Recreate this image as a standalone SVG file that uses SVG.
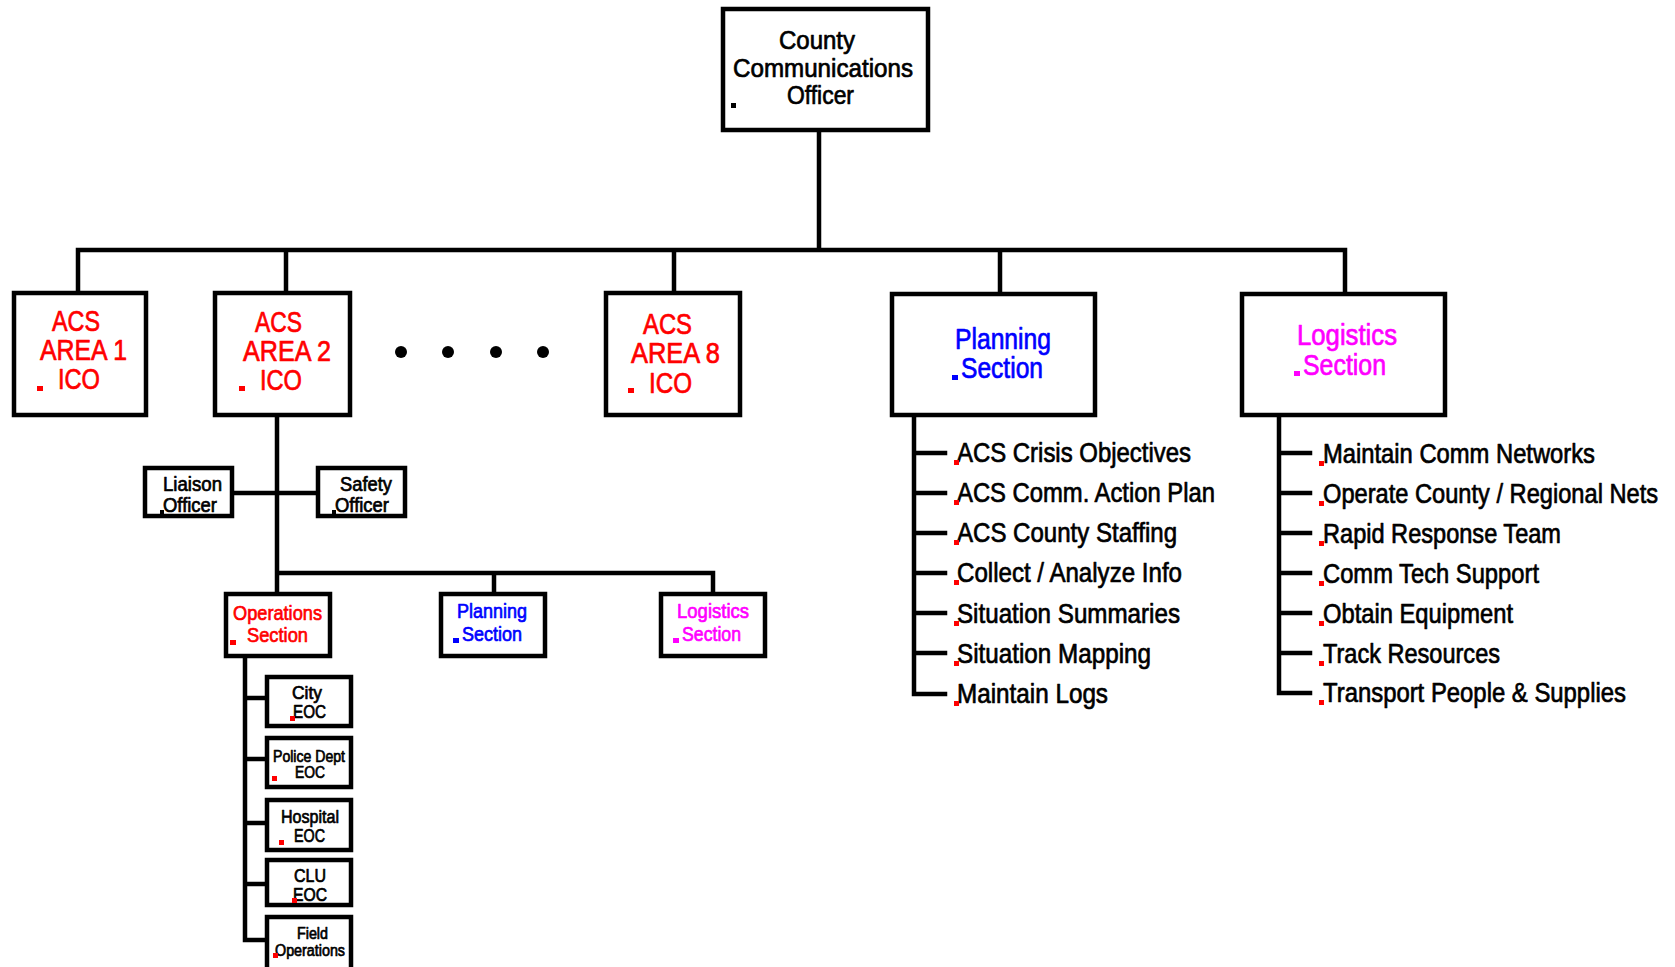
<svg xmlns="http://www.w3.org/2000/svg" width="1675" height="967" viewBox="0 0 1675 967">
<style>
.box{fill:#fff;stroke:#000;stroke-width:4.5}
.ln{fill:none;stroke:#000;stroke-width:4.5;stroke-linecap:square}
text{font-family:"Liberation Sans",Arial,sans-serif;stroke-width:0.7;stroke-linejoin:round}
.k{fill:#000}.r{fill:#f00}.b{fill:#00f}.m{fill:#f0f}
text.k{stroke:#000}text.r{stroke:#f00}text.b{stroke:#00f}text.m{stroke:#f0f}
.t26{font-size:26px}.t29{font-size:29px}.t28{font-size:28px}.t20{font-size:20px}.t21{font-size:21px}.t18{font-size:18px}.t16{font-size:16px}
</style>
<rect width="1675" height="967" fill="#fff"/>
<g id="connectors">
<path class="ln" d="M819,132V250M78,250H1345M78,250V293M286,250V293M674,250V293M1000,250V293M1345,250V293"/>
<path class="ln" d="M277,415V573M234,493H316M277,573H713M277,573V594M494,573V594M713,573V594"/>
<path class="ln" d="M245,656V940M245,698H267M245,759H267M245,823H267M245,884H267M245,940H267"/>
<path class="ln" d="M914,415V694M914,453H945M914,493H945M914,533H945M914,573H945M914,613H945M914,653H945M914,694H945"/>
<path class="ln" d="M1279,415V693M1279,453H1310M1279,493H1310M1279,533H1310M1279,573H1310M1279,613H1310M1279,653H1310M1279,693H1310"/>
<circle cx="401" cy="352" r="6" fill="#000"/>
<circle cx="448" cy="352" r="6" fill="#000"/>
<circle cx="496" cy="352" r="6" fill="#000"/>
<circle cx="543" cy="352" r="6" fill="#000"/>
</g>
<g id="county">
<rect class="box" x="723" y="9" width="205" height="121"/>
<text class="k t26" x="779" y="49" textLength="76" lengthAdjust="spacingAndGlyphs">County</text>
<text class="k t26" x="733" y="77" textLength="180" lengthAdjust="spacingAndGlyphs">Communications</text>
<text class="k t26" x="787" y="104" textLength="67" lengthAdjust="spacingAndGlyphs">Officer</text>
<rect class="k" x="731" y="103" width="5" height="5"/>
</g>
<g id="acs1">
<rect class="box" x="14" y="293" width="132" height="122"/>
<text class="r t29" x="52" y="331" textLength="48" lengthAdjust="spacingAndGlyphs">ACS</text>
<text class="r t29" x="40" y="360" textLength="87" lengthAdjust="spacingAndGlyphs">AREA 1</text>
<text class="r t29" x="58" y="389" textLength="42" lengthAdjust="spacingAndGlyphs">ICO</text>
<rect class="r" x="37" y="386" width="6" height="5"/>
</g>
<g id="acs2">
<rect class="box" x="215" y="293" width="135" height="122"/>
<text class="r t29" x="255" y="332" textLength="47" lengthAdjust="spacingAndGlyphs">ACS</text>
<text class="r t29" x="243" y="361" textLength="88" lengthAdjust="spacingAndGlyphs">AREA 2</text>
<text class="r t29" x="260" y="390" textLength="42" lengthAdjust="spacingAndGlyphs">ICO</text>
<rect class="r" x="239" y="386" width="6" height="5"/>
</g>
<g id="acs8">
<rect class="box" x="606" y="293" width="134" height="122"/>
<text class="r t29" x="643" y="334" textLength="49" lengthAdjust="spacingAndGlyphs">ACS</text>
<text class="r t29" x="631" y="363" textLength="89" lengthAdjust="spacingAndGlyphs">AREA 8</text>
<text class="r t29" x="649" y="393" textLength="43" lengthAdjust="spacingAndGlyphs">ICO</text>
<rect class="r" x="628" y="388" width="6" height="5"/>
</g>
<g id="planning">
<rect class="box" x="892" y="294" width="203" height="121"/>
<text class="b t29" x="955" y="349" textLength="96" lengthAdjust="spacingAndGlyphs">Planning</text>
<text class="b t29" x="961" y="378" textLength="82" lengthAdjust="spacingAndGlyphs">Section</text>
<rect class="b" x="952" y="375" width="6" height="5"/>
</g>
<g id="logistics">
<rect class="box" x="1242" y="294" width="203" height="121"/>
<text class="m t29" x="1297" y="345" textLength="100" lengthAdjust="spacingAndGlyphs">Logistics</text>
<text class="m t29" x="1303" y="375" textLength="83" lengthAdjust="spacingAndGlyphs">Section</text>
<rect class="m" x="1294" y="371" width="6" height="5"/>
</g>
<g id="liaison">
<rect class="box" x="145" y="468" width="87" height="48"/>
<text class="k t20" x="163" y="491" textLength="59" lengthAdjust="spacingAndGlyphs">Liaison</text>
<text class="k t20" x="163" y="512" textLength="54" lengthAdjust="spacingAndGlyphs">Officer</text>
<rect class="k" x="160" y="510" width="4" height="4"/>
</g>
<g id="safety">
<rect class="box" x="318" y="468" width="87" height="48"/>
<text class="k t20" x="340" y="491" textLength="52" lengthAdjust="spacingAndGlyphs">Safety</text>
<text class="k t20" x="335" y="512" textLength="54" lengthAdjust="spacingAndGlyphs">Officer</text>
<rect class="k" x="332" y="510" width="4" height="4"/>
</g>
<g id="ops">
<rect class="box" x="226" y="594" width="104" height="62"/>
<text class="r t21" x="233" y="620" textLength="89" lengthAdjust="spacingAndGlyphs">Operations</text>
<text class="r t21" x="247" y="642" textLength="61" lengthAdjust="spacingAndGlyphs">Section</text>
<rect class="r" x="230" y="640" width="6" height="5"/>
</g>
<g id="planning-small">
<rect class="box" x="441" y="594" width="104" height="62"/>
<text class="b t21" x="457" y="618" textLength="70" lengthAdjust="spacingAndGlyphs">Planning</text>
<text class="b t21" x="462" y="641" textLength="60" lengthAdjust="spacingAndGlyphs">Section</text>
<rect class="b" x="453" y="638" width="6" height="5"/>
</g>
<g id="logistics-small">
<rect class="box" x="661" y="594" width="104" height="62"/>
<text class="m t21" x="677" y="618" textLength="72" lengthAdjust="spacingAndGlyphs">Logistics</text>
<text class="m t21" x="682" y="641" textLength="59" lengthAdjust="spacingAndGlyphs">Section</text>
<rect class="m" x="673" y="638" width="6" height="5"/>
</g>
<g id="city-eoc">
<rect class="box" x="267" y="677" width="84" height="49"/>
<text class="k t18" x="292" y="699" textLength="30" lengthAdjust="spacingAndGlyphs">City</text>
<text class="k t18" x="293" y="718" textLength="33" lengthAdjust="spacingAndGlyphs">EOC</text>
<rect class="r" x="290" y="716" width="5" height="5"/>
</g>
<g id="police-eoc">
<rect class="box" x="267" y="738" width="84" height="49"/>
<text class="k t16" x="273" y="762" textLength="72" lengthAdjust="spacingAndGlyphs">Police Dept</text>
<text class="k t16" x="295" y="778" textLength="30" lengthAdjust="spacingAndGlyphs">EOC</text>
<rect class="r" x="272" y="776" width="5" height="5"/>
</g>
<g id="hospital-eoc">
<rect class="box" x="267" y="800" width="84" height="50"/>
<text class="k t18" x="281" y="823" textLength="58" lengthAdjust="spacingAndGlyphs">Hospital</text>
<text class="k t18" x="294" y="842" textLength="31" lengthAdjust="spacingAndGlyphs">EOC</text>
<rect class="r" x="279" y="840" width="5" height="5"/>
</g>
<g id="clu-eoc">
<rect class="box" x="267" y="860" width="84" height="45"/>
<text class="k t18" x="294" y="882" textLength="32" lengthAdjust="spacingAndGlyphs">CLU</text>
<text class="k t18" x="293" y="901" textLength="34" lengthAdjust="spacingAndGlyphs">EOC</text>
<rect class="r" x="292" y="898" width="5" height="5"/>
</g>
<g id="field-ops">
<rect class="box" x="267" y="917" width="84" height="60"/>
<text class="k t16" x="297" y="939" textLength="31" lengthAdjust="spacingAndGlyphs">Field</text>
<text class="k t16" x="275" y="956" textLength="70" lengthAdjust="spacingAndGlyphs">Operations</text>
<rect class="r" x="273" y="953" width="5" height="5"/>
</g>
<g id="planning-tasks">
<text class="k t28" x="957" y="462" textLength="234" lengthAdjust="spacingAndGlyphs">ACS Crisis Objectives</text>
<text class="k t28" x="957" y="502" textLength="258" lengthAdjust="spacingAndGlyphs">ACS Comm. Action Plan</text>
<text class="k t28" x="957" y="542" textLength="220" lengthAdjust="spacingAndGlyphs">ACS County Staffing</text>
<text class="k t28" x="957" y="582" textLength="225" lengthAdjust="spacingAndGlyphs">Collect / Analyze Info</text>
<text class="k t28" x="957" y="623" textLength="223" lengthAdjust="spacingAndGlyphs">Situation Summaries</text>
<text class="k t28" x="957" y="663" textLength="194" lengthAdjust="spacingAndGlyphs">Situation Mapping</text>
<text class="k t28" x="957" y="703" textLength="151" lengthAdjust="spacingAndGlyphs">Maintain Logs</text>
<g class="r">
<rect x="954" y="460" width="5" height="5"/><rect x="954" y="500" width="5" height="5"/><rect x="954" y="540" width="5" height="5"/><rect x="954" y="580" width="5" height="5"/><rect x="954" y="621" width="5" height="5"/><rect x="954" y="661" width="5" height="5"/><rect x="954" y="701" width="5" height="5"/>
</g>
</g>
<g id="logistics-tasks">
<text class="k t28" x="1323" y="463" textLength="272" lengthAdjust="spacingAndGlyphs">Maintain Comm Networks</text>
<text class="k t28" transform="translate(1323,503) scale(0.844,1)" x="0" y="0" textLength="397" lengthAdjust="spacingAndGlyphs">Operate County / Regional Nets</text>
<text class="k t28" x="1323" y="543" textLength="238" lengthAdjust="spacingAndGlyphs">Rapid Response Team</text>
<text class="k t28" x="1323" y="583" textLength="216" lengthAdjust="spacingAndGlyphs">Comm Tech Support</text>
<text class="k t28" x="1323" y="623" textLength="190" lengthAdjust="spacingAndGlyphs">Obtain Equipment</text>
<text class="k t28" x="1323" y="663" textLength="177" lengthAdjust="spacingAndGlyphs">Track Resources</text>
<text class="k t28" transform="translate(1323,702) scale(0.851,1)" x="0" y="0" textLength="356" lengthAdjust="spacingAndGlyphs">Transport People &amp; Supplies</text>
<g class="r">
<rect x="1319" y="461" width="5" height="5"/><rect x="1319" y="501" width="5" height="5"/><rect x="1319" y="541" width="5" height="5"/><rect x="1319" y="581" width="5" height="5"/><rect x="1319" y="621" width="5" height="5"/><rect x="1319" y="661" width="5" height="5"/><rect x="1319" y="700" width="5" height="5"/>
</g>
</g>
</svg>
